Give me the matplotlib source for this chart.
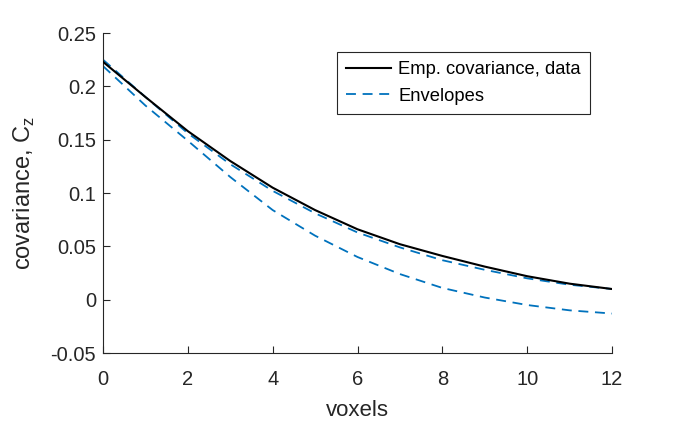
import matplotlib
matplotlib.use("Agg")
import matplotlib.pyplot as plt

voxels = [0, 1, 2, 3, 4, 5, 6, 7, 8, 9, 10, 11, 12]
emp_cov = [0.223, 0.190, 0.158, 0.130, 0.105, 0.084, 0.066, 0.052, 0.041, 0.031, 0.022, 0.015, 0.010]
env_upper = [0.225, 0.190, 0.156, 0.127, 0.102, 0.081, 0.063, 0.049, 0.037, 0.028, 0.020, 0.014, 0.010]
env_lower = [0.219, 0.182, 0.149, 0.115, 0.084, 0.060, 0.040, 0.024, 0.011, 0.002, -0.005, -0.010, -0.013]

xticks = [0, 2, 4, 6, 8, 10, 12]
yticks = [-0.05, 0, 0.05, 0.1, 0.15, 0.2, 0.25]
yticklabels = ["-0.05", "0", "0.05", "0.1", "0.15", "0.2", "0.25"]

plt.rcParams['font.family'] = ['Liberation Sans', 'DejaVu Sans']

fig = plt.figure(figsize=(6.75, 4.21), dpi=100)
ax = fig.add_axes([0.1526, 0.1615, 0.7541, 0.7601])

blue = '#0072BD'
ax.plot(voxels, emp_cov, color='black', lw=1.5, label='Emp. covariance, data', zorder=3)
ax.plot(voxels, env_upper, color=blue, lw=1.3, dashes=(5.5, 3.7), label='Envelopes', zorder=2)
ax.plot(voxels, env_lower, color=blue, lw=1.3, dashes=(5.5, 3.7), zorder=2)

ax.set_xlim(0, 12)
ax.set_ylim(-0.05, 0.25)
ax.set_xticks(xticks)
ax.set_xticklabels([str(t) for t in xticks])
ax.set_yticks(yticks)
ax.set_yticklabels(yticklabels)

for s in ['top', 'right']:
    ax.spines[s].set_visible(False)
for s in ['left', 'bottom']:
    ax.spines[s].set_color('#262626')
    ax.spines[s].set_linewidth(0.8)
ax.tick_params(direction='in', length=5, width=0.8, color='#262626',
               labelsize=14.5, labelcolor='#262626')
ax.tick_params(axis='x', pad=12)
ax.tick_params(axis='y', pad=5)

ax.set_xlabel('voxels', fontsize=16, color='#262626', labelpad=8)
ax.set_ylabel('covariance, C$_\\mathregular{z}$', fontsize=17, color='#262626', labelpad=10)

leg = ax.legend(loc='upper right', bbox_to_anchor=(0.957, 0.94), fontsize=13.2,
                frameon=True, fancybox=False, edgecolor='#262626', framealpha=1,
                handlelength=2.45, borderpad=0.5, labelspacing=0.5, handletextpad=0.4,
                borderaxespad=0)
leg.get_frame().set_linewidth(0.8)

fig.savefig('out.png', dpi=100)
